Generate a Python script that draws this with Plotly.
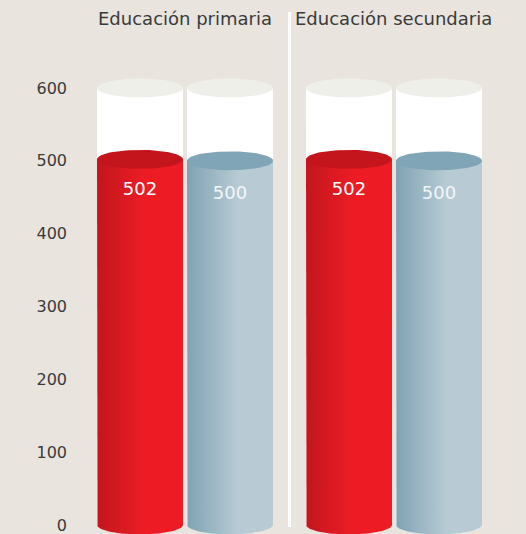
import numpy as np
import plotly.graph_objects as go

# ---- data ----
groups = ["Educación primaria", "Educación secundaria"]
values_red = [502, 502]
values_blue = [500, 500]
labels_red = ["502", "502"]
labels_blue = ["500", "500"]
axis_max = 600
y_ticks = [0, 100, 200, 300, 400, 500, 600]

# ---- geometry / style ----
group_x = [0.0, 2.3222]
offset = 0.5
rx = 0.4778
ry = 13.0
bg = "#e9e4de"
FONT = "DejaVu Sans"
WT = 400

red_grad = [[0, "#c2161d"], [0.55, "#ed1c24"], [1, "#ed1c24"]]
blue_grad = [[0, "#7fa3b3"], [0.6, "#b8cbd4"], [1, "#b8cbd4"]]
red_top = "#c4151d"
blue_top = "#7fa5b6"
cap_col = "#efefea"

fig = go.Figure()


def ell(cx, cy, t0, t1, n=80):
    t = np.linspace(t0, t1, n)
    return cx + rx * np.cos(t), cy + ry * np.sin(t)


def body(cx, top):
    ax, ay = ell(cx, 0, np.pi, 2 * np.pi)
    xs = np.concatenate([[cx - rx, cx - rx], ax, [cx + rx, cx - rx]])
    ys = np.concatenate([[top, 0], ay, [top, top]])
    return xs, ys


def cylinder(cx, val, grad, topc, label, lab_col, lab_dy):
    xs, ys = body(cx, axis_max)
    fig.add_trace(go.Scatter(x=xs, y=ys, fill="toself", fillcolor="#ffffff",
                             line=dict(width=0), mode="lines", hoverinfo="skip",
                             showlegend=False))
    ex, ey = ell(cx, axis_max, 0, 2 * np.pi)
    fig.add_trace(go.Scatter(x=ex, y=ey, fill="toself", fillcolor=cap_col,
                             line=dict(width=0), mode="lines", hoverinfo="skip",
                             showlegend=False))
    xs, ys = body(cx, val)
    fig.add_trace(go.Scatter(x=xs, y=ys, fill="toself",
                             fillgradient=dict(type="horizontal", colorscale=grad),
                             line=dict(width=0), mode="lines", hoverinfo="skip",
                             showlegend=False))
    ex, ey = ell(cx, val, 0, 2 * np.pi)
    fig.add_trace(go.Scatter(x=ex, y=ey, fill="toself", fillcolor=topc,
                             line=dict(width=0), mode="lines", hoverinfo="skip",
                             showlegend=False))
    fig.add_trace(go.Scatter(x=[cx], y=[val - lab_dy], mode="text", text=[label],
                             textfont=dict(family=FONT, size=18, color=lab_col,
                                           weight=WT),
                             hoverinfo="skip", showlegend=False))


for i, g in enumerate(groups):
    cylinder(group_x[i] - offset, values_red[i], red_grad, red_top,
             labels_red[i], "#ffffff", 43)
    cylinder(group_x[i] + offset, values_blue[i], blue_grad, blue_top,
             labels_blue[i], "#f2f6f8", 46)
    fig.add_annotation(x=group_x[i], y=1 - 19 / 534, xref="x", yref="paper",
                       text=g, showarrow=False, yanchor="middle",
                       font=dict(family=FONT, size=18, color="#3a3a3a",
                                 weight=WT))

sep_x = (group_x[0] + group_x[1]) / 2
fig.add_shape(type="line", x0=sep_x, x1=sep_x, xref="x", yref="paper",
              y0=1 - 12 / 534, y1=1 - 527 / 534,
              line=dict(color="#ffffff", width=3))

fig.update_layout(
    width=526, height=534,
    margin=dict(l=72, r=0, t=0, b=0),
    paper_bgcolor=bg, plot_bgcolor=bg,
    xaxis=dict(range=[-1.2556, 3.789], visible=False, fixedrange=True),
    yaxis=dict(range=[-12.36, 720.8], tickvals=y_ticks,
               ticktext=[str(v) for v in y_ticks], showgrid=False,
               zeroline=False, showline=False, ticks="", automargin=False,
               ticklabelstandoff=4, ticklabeloverflow="allow",
               fixedrange=True,
               tickfont=dict(family=FONT, size=16, color="#3a3a3a", weight=WT)),
    showlegend=False,
)

fig.write_html("out.html", config={"displayModeBar": False},
               post_script="document.body.style.margin='0';"
                           "document.body.style.background='" + bg + "';")
